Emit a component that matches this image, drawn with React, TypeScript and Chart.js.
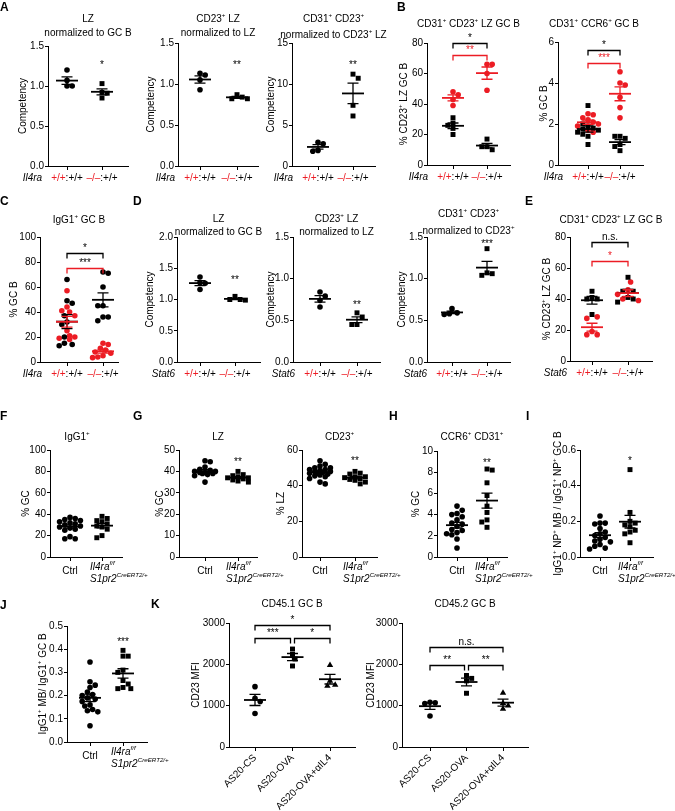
import React, { useEffect, useRef } from 'react';
import { Chart, registerables } from 'chart.js';

Chart.register(...registerables);

const FAMILY = '"Liberation Sans", Arial, Helvetica, sans-serif';
const RED = '#ec1c24';
const BLACK = '#000000';

// ---------- category / tick labels ----------
const il4raGene = 'Il4ra';
const stat6Gene = 'Stat6';
const genoCats = ['+/+:+/+', '–/–:+/+'];
const ctrlCat = 'Ctrl';
const koLine1 = ['Il4ra', 'f/f'];
const koLine2 = ['S1pr2', 'CreERT2/+'];
const kCats = ['AS20-CS', 'AS20-OVA', 'AS20-OVA+αIL4'];

// ---------- A ----------
const aLzWt = [1.2, 1.07, 1.0, 1.0];
const aLzKo = [1.03, 0.92, 0.91, 0.85];
const aCd23Wt = [1.13, 1.11, 1.05, 0.93];
const aCd23Ko = [0.87, 0.84, 0.82, 0.82];
const aCd31Wt = [2.9, 2.7, 1.9, 1.8];
const aCd31Ko = [11.2, 10.7, 7.4, 6.1];
// ---------- B ----------
const bLzRedWt = [48, 46, 43, 39];
const bLzBlkWt = [31, 27.5, 26, 24, 20];
const bLzRedKo = [66, 66, 60, 49];
const bLzBlkKo = [17, 12, 12, 10];
const bCcrRedWt = [2.5, 2.45, 2.3, 2.2, 2.1, 2.0, 1.9, 1.7, 1.6];
const bCcrBlkWt = [2.9, 2.0, 1.9, 1.8, 1.75, 1.7, 1.6, 1.5, 1.4, 1.0];
const bCcrRedKo = [4.55, 4.0, 3.9, 3.3, 2.8, 2.3];
const bCcrBlkKo = [1.4, 1.4, 1.3, 1.0, 0.9, 0.7];
// ---------- C ----------
const cRedWt = [57, 44, 41, 40, 37, 25, 21, 20, 19, 18];
const cBlkWt = [66, 47, 49, 37, 32, 30, 20, 15, 13, 14];
const cRedKo = [15, 14, 11, 9.5, 8, 7, 5, 4, 3.5];
const cBlkKo = [72, 71, 60, 45, 45, 36, 36, 33];
// ---------- D ----------
const dLzWt = [1.36, 1.27, 1.26, 1.16];
const dLzKo = [1.05, 1.0, 1.0, 0.99];
const dCd23Wt = [0.84, 0.79, 0.74, 0.66];
const dCd23Ko = [0.59, 0.54, 0.45, 0.45];
const dCd31Wt = [0.59, 0.57, 0.58, 0.64];
const dCd31Ko = [1.36, 1.06, 1.04, 1.07];
// ---------- E ----------
const eBlkWt = [45, 41, 40, 40, 30];
const eRedWt = [28.5, 27.5, 19, 17, 17];
const eRedKo = [51, 46, 43, 40, 39];
const eBlkKo = [54, 45, 45, 41, 40, 38];
// ---------- F–J ----------
const fCtrl = [37, 36, 35, 34, 33, 32, 31, 30, 29, 28, 27, 26, 25, 19, 17, 17];
const fKo = [38, 36, 34, 33, 31, 29, 28, 26, 20, 18];
const gLzCtrl = [45, 44.5, 42, 41, 40.5, 40, 40, 39.5, 39.5, 39, 39, 38.5, 38, 35];
const gLzKo = [40, 38.5, 38, 37.5, 37, 37, 36.5, 36, 35.5, 35];
const gCd23Ctrl = [54, 52, 51, 50, 50, 49, 49, 48.5, 48, 48, 47.5, 47, 47, 46.5, 46, 45.5, 45, 44, 42, 41];
const gCd23Ko = [48, 47, 46.5, 45, 45, 44.5, 44, 43.5, 43, 42, 41];
const hCtrl = [4.8, 4.4, 4.1, 4.0, 3.8, 3.5, 3.2, 3.1, 2.9, 2.6, 2.5, 2.3, 2.2, 2.1, 1.7, 0.85];
const hKo = [8.3, 8.2, 7.0, 5.8, 4.8, 4.2, 3.5, 3.3, 2.8];
const iCtrl = [0.23, 0.19, 0.19, 0.185, 0.16, 0.14, 0.13, 0.12, 0.11, 0.1, 0.09, 0.085, 0.07, 0.06, 0.05, 0.045];
const iKo = [0.49, 0.25, 0.2, 0.19, 0.18, 0.17, 0.15, 0.14, 0.13, 0.08];
const jCtrl = [0.345, 0.26, 0.245, 0.235, 0.215, 0.205, 0.2, 0.19, 0.185, 0.175, 0.16, 0.155, 0.14, 0.135, 0.13, 0.07];
const jKo = [0.395, 0.37, 0.37, 0.31, 0.3, 0.265, 0.25, 0.235, 0.23, 0.23];
// ---------- K ----------
const k1Cs = [1460, 1180, 1100, 810];
const k1Ova = [2370, 2240, 2130, 1960];
const k1Ab = [1980, 1600, 1500, 1480];
const k2Cs = [1080, 1070, 1050, 750];
const k2Ova = [1730, 1660, 1600, 1300];
const k2Ab = [1310, 1060, 1000, 920];

type Shape = 'circle' | 'rect' | 'triangle';
type Grp = { cat: number; values: number[]; color: string; shape: Shape };
type Br = { a: number; b: number; v: number; text: string; color: string; lineColor?: string; inA?: number; inB?: number };
type Star = { cat: number; v: number; text: string };
type Panel = {
  x0: number; x1: number; yTop: number; yBot: number; cats: number[];
  yMin: number; yMax: number; yStep: number; dec: number;
  title: string[]; titleY: number[]; titleX?: number;
  yTitle: string; yTitleX: number;
  groups: Grp[]; stars?: Star[]; brackets?: Br[];
  xMode: 'geno' | 'ctrl' | 'k'; gene?: string;
};

const g = (cat: number, values: number[], color: string, shape: Shape): Grp => ({ cat, values, color, shape });

const panels: Panel[] = [
  { x0: 48, x1: 128, yTop: 46, yBot: 166, cats: [67, 102], yMin: 0, yMax: 1.5, yStep: 0.5, dec: 1,
    title: ['LZ', 'normalized to GC B'], titleY: [18, 32], yTitle: 'Competency', yTitleX: 22,
    groups: [g(0, aLzWt, BLACK, 'circle'), g(1, aLzKo, BLACK, 'rect')],
    stars: [{ cat: 1, v: 1.29, text: '*' }], xMode: 'geno', gene: il4raGene },
  { x0: 178, x1: 258, yTop: 43, yBot: 166, cats: [200, 237], yMin: 0, yMax: 1.5, yStep: 0.5, dec: 1,
    title: ['CD23^{+} LZ', 'normalized to LZ'], titleY: [18, 32], yTitle: 'Competency', yTitleX: 150,
    groups: [g(0, aCd23Wt, BLACK, 'circle'), g(1, aCd23Ko, BLACK, 'rect')],
    stars: [{ cat: 1, v: 1.255, text: '**' }], xMode: 'geno', gene: il4raGene },
  { x0: 292, x1: 375, yTop: 43, yBot: 166, cats: [318, 353], yMin: 0, yMax: 15, yStep: 5, dec: 0,
    title: ['CD31^{+} CD23^{+}', 'normalized to CD23^{+} LZ'], titleY: [18, 34], yTitle: 'Competency', yTitleX: 270,
    groups: [g(0, aCd31Wt, BLACK, 'circle'), g(1, aCd31Ko, BLACK, 'rect')],
    stars: [{ cat: 1, v: 12.6, text: '**' }], xMode: 'geno', gene: il4raGene },
  { x0: 427, x1: 510, yTop: 43, yBot: 165, cats: [453, 487], yMin: 0, yMax: 80, yStep: 20, dec: 0,
    title: ['CD31^{+} CD23^{+} LZ GC B'], titleY: [23], yTitle: '% CD23^{+} LZ GC B', yTitleX: 403,
    groups: [g(0, bLzBlkWt, BLACK, 'rect'), g(0, bLzRedWt, RED, 'circle'), g(1, bLzBlkKo, BLACK, 'rect'), g(1, bLzRedKo, RED, 'circle')],
    brackets: [{ a: 0, b: 1, v: 80, text: '*', color: BLACK }, { a: 0, b: 1, v: 72, text: '**', color: RED }],
    xMode: 'geno', gene: il4raGene },
  { x0: 558, x1: 643, yTop: 42, yBot: 165, cats: [588, 620], yMin: 0, yMax: 6, yStep: 2, dec: 0,
    title: ['CD31^{+} CCR6^{+} GC B'], titleY: [23], titleX: 594, yTitle: '% GC B', yTitleX: 543,
    groups: [g(0, bCcrBlkWt, BLACK, 'rect'), g(0, bCcrRedWt, RED, 'circle'), g(1, bCcrBlkKo, BLACK, 'rect'), g(1, bCcrRedKo, RED, 'circle')],
    brackets: [{ a: 0, b: 1, v: 5.6, text: '*', color: BLACK }, { a: 0, b: 1, v: 4.97, text: '***', color: RED }],
    xMode: 'geno', gene: il4raGene },
  { x0: 40, x1: 118, yTop: 237, yBot: 362, cats: [67, 103], yMin: 0, yMax: 100, yStep: 20, dec: 0,
    title: ['IgG1^{+} GC B'], titleY: [219], yTitle: '% GC B', yTitleX: 13,
    groups: [g(0, cBlkWt, BLACK, 'circle'), g(0, cRedWt, RED, 'circle'), g(1, cBlkKo, BLACK, 'circle'), g(1, cRedKo, RED, 'circle')],
    brackets: [{ a: 0, b: 1, v: 87.5, text: '*', color: BLACK }, { a: 0, b: 1, v: 75.5, text: '***', color: BLACK, lineColor: RED }],
    xMode: 'geno', gene: il4raGene },
  { x0: 177, x1: 260, yTop: 237, yBot: 362, cats: [200, 235], yMin: 0, yMax: 2, yStep: 0.5, dec: 1,
    title: ['LZ', 'normalized to GC B'], titleY: [218, 231], yTitle: 'Competency', yTitleX: 149,
    groups: [g(0, dLzWt, BLACK, 'circle'), g(1, dLzKo, BLACK, 'rect')],
    stars: [{ cat: 1, v: 1.34, text: '**' }], xMode: 'geno', gene: stat6Gene },
  { x0: 293, x1: 380, yTop: 237, yBot: 362, cats: [320, 357], yMin: 0, yMax: 1.5, yStep: 0.5, dec: 1,
    title: ['CD23^{+} LZ', 'normalized to LZ'], titleY: [218, 231], yTitle: 'Competency', yTitleX: 270,
    groups: [g(0, dCd23Wt, BLACK, 'circle'), g(1, dCd23Ko, BLACK, 'rect')],
    stars: [{ cat: 1, v: 0.71, text: '**' }], xMode: 'geno', gene: stat6Gene },
  { x0: 427, x1: 510, yTop: 237, yBot: 362, cats: [452, 487], yMin: 0, yMax: 1.5, yStep: 0.5, dec: 1,
    title: ['CD31^{+} CD23^{+}', 'normalized to CD23^{+}'], titleY: [213, 230], yTitle: 'Competency', yTitleX: 401,
    groups: [g(0, dCd31Wt, BLACK, 'circle'), g(1, dCd31Ko, BLACK, 'rect')],
    stars: [{ cat: 1, v: 1.44, text: '***' }], xMode: 'geno', gene: stat6Gene },
  { x0: 570, x1: 652, yTop: 237, yBot: 361, cats: [592, 628], yMin: 0, yMax: 80, yStep: 20, dec: 0,
    title: ['CD31^{+} CD23^{+} LZ GC B'], titleY: [219], yTitle: '% CD23^{+} LZ GC B', yTitleX: 546,
    groups: [g(0, eBlkWt, BLACK, 'rect'), g(0, eRedWt, RED, 'circle'), g(1, eBlkKo, BLACK, 'rect'), g(1, eRedKo, RED, 'circle')],
    brackets: [{ a: 0, b: 1, v: 76.6, text: 'n.s.', color: BLACK }, { a: 0, b: 1, v: 64.5, text: '*', color: RED }],
    xMode: 'geno', gene: stat6Gene },
  { x0: 50, x1: 122, yTop: 450, yBot: 557, cats: [70, 102], yMin: 0, yMax: 100, yStep: 20, dec: 0,
    title: ['IgG1^{+}'], titleY: [436], titleX: 77, yTitle: '% GC', yTitleX: 25,
    groups: [g(0, fCtrl, BLACK, 'circle'), g(1, fKo, BLACK, 'rect')], xMode: 'ctrl' },
  { x0: 179, x1: 257, yTop: 450, yBot: 557, cats: [205, 238], yMin: 0, yMax: 50, yStep: 10, dec: 0,
    title: ['LZ'], titleY: [436], yTitle: '% GC', yTitleX: 159,
    groups: [g(0, gLzCtrl, BLACK, 'circle'), g(1, gLzKo, BLACK, 'rect')],
    stars: [{ cat: 1, v: 45.3, text: '**' }], xMode: 'ctrl' },
  { x0: 302, x1: 377, yTop: 450, yBot: 557, cats: [320, 355], yMin: 0, yMax: 60, yStep: 20, dec: 0,
    title: ['CD23^{+}'], titleY: [436], yTitle: '% LZ', yTitleX: 280,
    groups: [g(0, gCd23Ctrl, BLACK, 'circle'), g(1, gCd23Ko, BLACK, 'rect')],
    stars: [{ cat: 1, v: 55, text: '**' }], xMode: 'ctrl' },
  { x0: 437, x1: 507, yTop: 451, yBot: 557, cats: [457, 487], yMin: 0, yMax: 10, yStep: 2, dec: 0,
    title: ['CCR6^{+} CD31^{+}'], titleY: [436], yTitle: '% GC', yTitleX: 415,
    groups: [g(0, hCtrl, BLACK, 'circle'), g(1, hKo, BLACK, 'rect')],
    stars: [{ cat: 1, v: 9.07, text: '**' }], xMode: 'ctrl' },
  { x0: 580, x1: 653, yTop: 450, yBot: 557, cats: [600, 630], yMin: 0, yMax: 0.6, yStep: 0.2, dec: 1,
    title: [], titleY: [], yTitle: 'IgG1^{+} NP^{+} MB / IgG1^{+} NP^{+} GC B', yTitleX: 557,
    groups: [g(0, iCtrl, BLACK, 'circle'), g(1, iKo, BLACK, 'rect')],
    stars: [{ cat: 1, v: 0.55, text: '*' }], xMode: 'ctrl' },
  { x0: 67, x1: 147, yTop: 626, yBot: 742, cats: [90, 123], yMin: 0, yMax: 0.5, yStep: 0.1, dec: 1,
    title: [], titleY: [], yTitle: 'IgG1^{+} MB/ IgG1^{+} GC B', yTitleX: 42,
    groups: [g(0, jCtrl, BLACK, 'circle'), g(1, jKo, BLACK, 'rect')],
    stars: [{ cat: 1, v: 0.44, text: '***' }], xMode: 'ctrl' },
  { x0: 229, x1: 355, yTop: 623, yBot: 747, cats: [255, 290, 330], yMin: 0, yMax: 3000, yStep: 1000, dec: 0,
    title: ['CD45.1 GC B'], titleY: [603], yTitle: 'CD23 MFI', yTitleX: 195,
    groups: [g(0, k1Cs, BLACK, 'circle'), g(1, k1Ova, BLACK, 'rect'), g(2, k1Ab, BLACK, 'triangle')],
    brackets: [
      { a: 0, b: 2, v: 2960, text: '*', color: BLACK },
      { a: 0, b: 1, v: 2640, text: '***', color: BLACK, inB: 2 },
      { a: 1, b: 2, v: 2640, text: '*', color: BLACK, inA: 2 },
    ], xMode: 'k' },
  { x0: 402, x1: 528, yTop: 623, yBot: 747, cats: [430, 465, 503], yMin: 0, yMax: 3000, yStep: 1000, dec: 0,
    title: ['CD45.2 GC B'], titleY: [603], yTitle: 'CD23 MFI', yTitleX: 370,
    groups: [g(0, k2Cs, BLACK, 'circle'), g(1, k2Ova, BLACK, 'rect'), g(2, k2Ab, BLACK, 'triangle')],
    brackets: [
      { a: 0, b: 2, v: 2420, text: 'n.s.', color: BLACK },
      { a: 0, b: 1, v: 1990, text: '**', color: BLACK, inB: 2 },
      { a: 1, b: 2, v: 1990, text: '**', color: BLACK, inA: 2 },
    ], xMode: 'k' },
];

const letters = [
  { t: 'A', x: 0, y: 2 }, { t: 'B', x: 397, y: 2 },
  { t: 'C', x: 0, y: 196 }, { t: 'D', x: 133, y: 196 }, { t: 'E', x: 525, y: 196 },
  { t: 'F', x: 0, y: 411 }, { t: 'G', x: 133, y: 411 }, { t: 'H', x: 389, y: 411 }, { t: 'I', x: 526, y: 411 },
  { t: 'J', x: 0, y: 600 }, { t: 'K', x: 151, y: 599 },
];

// ---------- rich text helpers ----------
type Seg = { t: string; c?: string; i?: boolean; s?: boolean };

function parseRich(str: string, color = BLACK, italic = false): Seg[] {
  const out: Seg[] = [];
  let buf = '';
  let i = 0;
  while (i < str.length) {
    if (str[i] === '^' && str[i + 1] === '{') {
      if (buf) { out.push({ t: buf, c: color, i: italic }); buf = ''; }
      const j = str.indexOf('}', i);
      out.push({ t: str.slice(i + 2, j), c: color, i: italic, s: true });
      i = j + 1;
    } else {
      buf += str[i];
      i++;
    }
  }
  if (buf) out.push({ t: buf, c: color, i: italic });
  return out;
}

const segFont = (s: Seg, size: number) => `${s.i ? 'italic ' : ''}${s.s ? size * 0.62 : size}px ${FAMILY}`;

function richWidth(ctx: CanvasRenderingContext2D, segs: Seg[], size: number) {
  let w = 0;
  for (const s of segs) { ctx.font = segFont(s, size); w += ctx.measureText(s.t).width; }
  return w;
}

function drawRich(ctx: CanvasRenderingContext2D, segs: Seg[], x: number, yc: number, size: number, align: 'left' | 'center' | 'right') {
  ctx.save();
  ctx.textBaseline = 'alphabetic';
  ctx.textAlign = 'left';
  const w = richWidth(ctx, segs, size);
  let cx = align === 'center' ? x - w / 2 : align === 'right' ? x - w : x;
  const base = yc + size * 0.36;
  for (const s of segs) {
    ctx.font = segFont(s, size);
    ctx.fillStyle = s.c || BLACK;
    ctx.fillText(s.t, cx, s.s ? base - size * 0.42 : base);
    cx += ctx.measureText(s.t).width;
  }
  ctx.restore();
}

// beeswarm spread (pixels) limited to a maximum half-width
function swarm(values: number[], pxPerY: number, d: number, maxOff: number): number[] {
  const order = values.map((_, i) => i).sort((a, b) => values[b] - values[a]);
  const placed: [number, number][] = [];
  const out = new Array(values.length).fill(0);
  const step = d / 2;
  const kMax = Math.floor(maxOff / step) * 2;
  let dir = 1;
  for (const i of order) {
    const y = values[i] * pxPerY;
    let best = 0;
    let bestD = -1;
    for (let k = 0; k <= kMax; k++) {
      const c = k === 0 ? 0 : (k % 2 === 1 ? dir : -dir) * Math.ceil(k / 2) * step;
      const md = placed.reduce((m, [px, py]) => Math.min(m, Math.hypot(px - c, py - y)), Infinity);
      if (md >= d) { best = c; bestD = md; break; }
      if (md > bestD + 0.01) { bestD = md; best = c; }
    }
    if (best !== 0) dir = -dir;
    placed.push([best, y]);
    out[i] = best;
  }
  return out;
}

function mean(v: number[]) { return v.reduce((a, b) => a + b, 0) / v.length; }
function sem(v: number[]) {
  const m = mean(v);
  const sd = Math.sqrt(v.reduce((a, b) => a + (b - m) ** 2, 0) / (v.length - 1));
  return sd / Math.sqrt(v.length);
}

function PanelChart({ p }: { p: Panel }) {
  const ref = useRef<HTMLCanvasElement>(null);
  const left = p.x0 - 56;
  const top = p.yTop - 50;
  const right = p.x1 + (p.xMode === 'ctrl' ? 45 : 14);
  const bottom = p.xMode === 'k' ? 811 : p.yBot + 46;
  const W = right - left;
  const H = bottom - top;

  useEffect(() => {
    const canvas = ref.current;
    if (!canvas) return;
    const nCat = p.cats.length;
    const unit = (p.cats[nCat - 1] - p.cats[0]) / (nCat - 1);
    const pxPerY = (p.yBot - p.yTop) / (p.yMax - p.yMin);
    const offsets = new Map<Grp, number[]>();
    for (let c = 0; c < nCat; c++) {
      const gs = p.groups.filter((gr) => gr.cat === c);
      const all = gs.flatMap((gr) => gr.values);
      const off = swarm(all, pxPerY, 5.2, 12);
      let k = 0;
      for (const gr of gs) { offsets.set(gr, off.slice(k, k + gr.values.length)); k += gr.values.length; }
    }
    const datasets = p.groups.map((gr) => ({
      type: 'scatter' as const,
      data: gr.values.map((v, i) => ({ x: gr.cat + (offsets.get(gr) as number[])[i] / unit, y: v })),
      pointStyle: gr.shape,
      pointRadius: gr.shape === 'circle' ? 2.8 : gr.shape === 'rect' ? 3.5 : 3.7,
      backgroundColor: gr.color,
      borderColor: gr.color,
      borderWidth: 0,
      showLine: false,
    }));

    const L = (x: number) => x - left;
    const T = (y: number) => y - top;

    const deco = {
      id: 'deco',
      afterDatasetsDraw(chart: any) {
        const ctx: CanvasRenderingContext2D = chart.ctx;
        const xs = chart.scales.x;
        const ys = chart.scales.y;
        ctx.save();
        for (const gr of p.groups) {
          const m = mean(gr.values);
          const e = sem(gr.values);
          const cx = xs.getPixelForValue(gr.cat);
          const ym = ys.getPixelForValue(m);
          const yh = ys.getPixelForValue(m + e);
          const yl = ys.getPixelForValue(m - e);
          ctx.strokeStyle = gr.color;
          ctx.lineWidth = 1.8;
          ctx.beginPath();
          ctx.moveTo(cx - 11, ym); ctx.lineTo(cx + 11, ym);
          ctx.stroke();
          ctx.lineWidth = 1.3;
          ctx.beginPath();
          ctx.moveTo(cx, yh); ctx.lineTo(cx, yl);
          ctx.moveTo(cx - 5.5, yh); ctx.lineTo(cx + 5.5, yh);
          ctx.moveTo(cx - 5.5, yl); ctx.lineTo(cx + 5.5, yl);
          ctx.stroke();
        }
        ctx.restore();
      },
      afterDraw(chart: any) {
        const ctx: CanvasRenderingContext2D = chart.ctx;
        const xs = chart.scales.x;
        const ys = chart.scales.y;
        const area = chart.chartArea;
        // titles
        const tx = p.titleX !== undefined ? L(p.titleX) : (area.left + area.right) / 2;
        p.title.forEach((line, i) => drawRich(ctx, parseRich(line), tx, T(p.titleY[i]), 10, 'center'));
        // y title
        ctx.save();
        ctx.translate(L(p.yTitleX), (area.top + area.bottom) / 2);
        ctx.rotate(-Math.PI / 2);
        drawRich(ctx, parseRich(p.yTitle), 0, 0, 10, 'center');
        ctx.restore();
        // x labels
        if (p.xMode === 'geno') {
          const yc = area.bottom + 11;
          let firstW = 0;
          genoCats.forEach((lab, i) => {
            const k = lab.indexOf(':');
            const segs: Seg[] = [{ t: lab.slice(0, k), c: RED }, { t: lab.slice(k), c: BLACK }];
            if (i === 0) firstW = richWidth(ctx, segs, 10);
            drawRich(ctx, segs, xs.getPixelForValue(i), yc, 10, 'center');
          });
          const gx = xs.getPixelForValue(0) - firstW / 2 - 9;
          drawRich(ctx, [{ t: p.gene || '', i: true }], gx, yc, 10, 'right');
        } else if (p.xMode === 'ctrl') {
          drawRich(ctx, [{ t: ctrlCat }], xs.getPixelForValue(0), area.bottom + 13, 10, 'center');
          const lx = xs.getPixelForValue(1) - 12;
          drawRich(ctx, [{ t: koLine1[0], i: true }, { t: koLine1[1], i: true, s: true }], lx, area.bottom + 9, 10, 'left');
          drawRich(ctx, [{ t: koLine2[0], i: true }, { t: koLine2[1], i: true, s: true }], lx, area.bottom + 21, 10, 'left');
        }
        // stars
        ctx.save();
        ctx.textAlign = 'center';
        ctx.textBaseline = 'alphabetic';
        ctx.font = `10px ${FAMILY}`;
        ctx.fillStyle = BLACK;
        for (const s of p.stars || []) {
          ctx.fillText(s.text, xs.getPixelForValue(s.cat), ys.getPixelForValue(s.v) + 5);
        }
        // brackets
        for (const b of p.brackets || []) {
          const xa = xs.getPixelForValue(b.a) + (b.inA || 0);
          const xb = xs.getPixelForValue(b.b) - (b.inB || 0);
          const yv = Math.round(ys.getPixelForValue(b.v)) + 0.5;
          ctx.strokeStyle = b.lineColor || b.color;
          ctx.lineWidth = 1.3;
          ctx.beginPath();
          ctx.moveTo(xa, yv + 5); ctx.lineTo(xa, yv); ctx.lineTo(xb, yv); ctx.lineTo(xb, yv + 5);
          ctx.stroke();
          ctx.fillStyle = b.color;
          ctx.fillText(b.text, (xa + xb) / 2, yv - 3);
        }
        ctx.restore();
      },
    };

    const chart = new Chart(canvas, {
      type: 'scatter',
      data: { datasets },
      options: {
        responsive: false,
        animation: false,
        devicePixelRatio: 1,
        events: [],
        layout: { padding: { left: 0, top: p.yTop - top, right: right - p.x1, bottom: 0 } },
        plugins: { legend: { display: false }, tooltip: { enabled: false }, title: { display: false } },
        scales: {
          x: {
            type: 'linear',
            position: 'bottom',
            min: (p.x0 - p.cats[0]) / unit,
            max: (p.x1 - p.cats[0]) / unit,
            afterBuildTicks: (s: any) => { s.ticks = p.cats.map((_, i) => ({ value: i })); },
            afterFit: (s: any) => { s.height = bottom - p.yBot; },
            grid: { drawOnChartArea: false, drawTicks: true, tickLength: 4, color: BLACK, lineWidth: 1 },
            border: { display: true, color: BLACK, width: 1 },
            ticks: {
              display: p.xMode === 'k',
              autoSkip: false,
              minRotation: 45,
              maxRotation: 45,
              padding: 1,
              color: BLACK,
              font: { size: 10, family: FAMILY },
              callback: (_v: any, i: number) => kCats[i] ?? '',
            },
          },
          y: {
            type: 'linear',
            position: 'left',
            min: p.yMin,
            max: p.yMax,
            afterFit: (s: any) => { s.width = p.x0 - left; },
            grid: { drawOnChartArea: false, drawTicks: true, tickLength: 3, color: BLACK, lineWidth: 1 },
            border: { display: true, color: BLACK, width: 1 },
            ticks: {
              stepSize: p.yStep,
              padding: 1,
              color: BLACK,
              font: { size: 10, family: FAMILY },
              callback: (v: any) => Number(v).toFixed(p.dec),
            },
          },
        },
      } as any,
      plugins: [deco as any],
    });
    return () => chart.destroy();
  }, []);

  return (
    <canvas
      ref={ref}
      width={W}
      height={H}
      style={{ position: 'absolute', left, top, width: W, height: H }}
    />
  );
}

export default function App() {
  return (
    <div style={{ position: 'absolute', left: 0, top: 0, width: 675, height: 811, background: '#fff', overflow: 'hidden' }}>
      {panels.map((p, i) => <PanelChart key={i} p={p} />)}
      {letters.map((l) => (
        <div
          key={l.t}
          style={{ position: 'absolute', left: l.x, top: l.y - 1.5, font: `bold 12px ${FAMILY}`, lineHeight: '12px', color: '#000' }}
        >
          {l.t}
        </div>
      ))}
    </div>
  );
}
